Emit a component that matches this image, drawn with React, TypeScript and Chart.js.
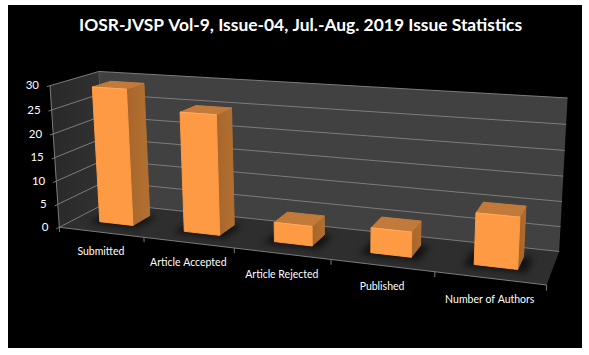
import React, { useEffect, useRef } from "react";
import { Chart, registerables } from "chart.js";

Chart.register(...registerables);

const titleText = "IOSR-JVSP Vol-9, Issue-04, Jul.-Aug. 2019 Issue Statistics";
const categories = ["Submitted", "Article Accepted", "Article Rejected", "Published", "Number of Authors"];
const values = [29, 25, 4, 5, 10];
const yMax = 30;
const yStep = 5;

// Camera: where three edges of the plot box land inside the canvas (canvas = page minus 8,5)
const CX = 8, CY = 5;
const O = { x: 59.3 - CX, y: 227.3 - CY };
const U = { x: 546.7 - CX, y: 285 - CY };
const W = { x: 106 - CX, y: 203 - CY };
const V = { x: 50 - CX, y: 85.7 - CY };
const persp = { a: -0.16, b: 0.08, c: -0.033 };
const depthFront = 0.33, depthBack = 0.72;

function project(u: number, w: number, v: number) {
  const { a, b, c } = persp;
  const d = 1 + a * u + b * w + c * v;
  const f = (k: "x" | "y") =>
    (O[k] + u * ((1 + a) * U[k] - O[k]) + w * ((1 + b) * W[k] - O[k]) + v * ((1 + c) * V[k] - O[k])) / d;
  return { x: f("x"), y: f("y") };
}

function poly(ctx: CanvasRenderingContext2D, pts: { x: number; y: number }[], fill: string | CanvasGradient, soft = false) {
  ctx.beginPath();
  pts.forEach((p, i) => (i ? ctx.lineTo(p.x, p.y) : ctx.moveTo(p.x, p.y)));
  ctx.closePath();
  ctx.fillStyle = fill;
  ctx.fill();
  if (soft) {
    ctx.strokeStyle = fill;
    ctx.lineWidth = 1;
    ctx.lineJoin = "round";
    ctx.stroke();
  }
}

function line(ctx: CanvasRenderingContext2D, a: { x: number; y: number }, b: { x: number; y: number }, color: string) {
  ctx.beginPath();
  ctx.moveTo(a.x, a.y);
  ctx.lineTo(b.x, b.y);
  ctx.strokeStyle = color;
  ctx.lineWidth = 1;
  ctx.stroke();
}

const scene3d = {
  id: "scene3d",
  afterDatasetsDraw(chart: any) {
    const ctx: CanvasRenderingContext2D = chart.ctx;
    const area = chart.chartArea;
    const xs = chart.scales.x, ys = chart.scales.y;
    const toU = (px: number) => (px - area.left) / (area.right - area.left);
    const toV = (py: number) => (area.bottom - py) / (area.bottom - area.top);
    const grid = "#7c7c7c";
    ctx.save();

    // walls and floor
    const lwGrad = ctx.createLinearGradient(project(0, 0, 0).x, 0, project(0, 1, 0).x, 0);
    lwGrad.addColorStop(0, "#2a2a2a");
    lwGrad.addColorStop(1, "#323232");
    poly(ctx, [project(0, 0, 0), project(0, 1, 0), project(0, 1, 1), project(0, 0, 1)], lwGrad);
    poly(ctx, [project(0, 1, 0), project(1, 1, 0), project(1, 1, 1), project(0, 1, 1)], "#414141");
    poly(ctx, [project(0, 0, 0), project(1, 0, 0), project(1, 1, 0), project(0, 1, 0)], "#2e2e2e");

    // horizontal gridlines from the y scale
    ys.ticks.forEach((t: any) => {
      const v = toV(ys.getPixelForValue(t.value));
      line(ctx, project(0, -0.06, v), project(0, 1, v), grid);
      line(ctx, project(0, 1, v), project(1, 1, v), grid);
      const p = project(0, 0, v);
      ctx.fillStyle = "#ffffff";
      ctx.font = "11.5px Lato";
      ctx.textAlign = "right";
      ctx.textBaseline = "middle";
      ctx.fillText(String(t.value), p.x - 11, p.y);
    });
    line(ctx, project(0, 0, 0), project(0, 0, 1), grid);
    line(ctx, project(0, 1, 0), project(0, 1, 1), "#555555");
    line(ctx, project(0, 0, 0), project(1, 0, 0), grid);

    // category ticks and labels from the x scale
    const n = categories.length;
    for (let i = 0; i <= n; i++) {
      const u = i / n;
      line(ctx, project(u, 0, 0), project(u, 0, -0.035), grid);
    }
    ctx.font = "10.5px Lato";
    ctx.textAlign = "center";
    ctx.textBaseline = "middle";
    ctx.fillStyle = "#ffffff";
    categories.forEach((c, i) => {
      const u = toU(xs.getPixelForValue(i));
      const p = project(u, 0, 0);
      ctx.fillText(xs.getLabelForValue(i), p.x, p.y + 19.5 + 2.5 * u);
    });

    const bars = chart.getDatasetMeta(0).data;
    // floor shadows
    ctx.save();
    ctx.beginPath();
    [project(0, 0, 0), project(1, 0, 0), project(1, 1, 0), project(0, 1, 0)].forEach((p, i) =>
      i ? ctx.lineTo(p.x, p.y) : ctx.moveTo(p.x, p.y)
    );
    ctx.closePath();
    ctx.clip();
    ctx.filter = "blur(3px)";
    bars.forEach((b: any) => {
      const u0 = toU(b.x - b.width / 2) - 0.018, u1 = toU(b.x + b.width / 2) + 0.018;
      poly(ctx, [project(u0, depthFront - 0.08, 0), project(u1, depthFront - 0.08, 0), project(u1, depthBack, 0), project(u0, depthBack, 0)], "rgba(0,0,0,0.6)");
    });
    ctx.restore();

    // bars
    bars.forEach((b: any) => {
      const u0 = toU(b.x - b.width / 2), u1 = toU(b.x + b.width / 2);
      const v = toV(b.y), w0 = depthFront, w1 = depthBack;
      const fbl = project(u0, w0, 0), fbr = project(u1, w0, 0), ftl = project(u0, w0, v), ftr = project(u1, w0, v);
      const bbr = project(u1, w1, 0), btr = project(u1, w1, v), btl = project(u0, w1, v);
      const side = ctx.createLinearGradient(ftr.x, 0, btr.x, 0);
      side.addColorStop(0, "#a8662c");
      side.addColorStop(1, "#b06e30");
      poly(ctx, [fbr, bbr, btr, ftr], side, true);
      poly(ctx, [ftl, ftr, btr, btl], "#c27a3a", true);
      poly(ctx, [fbl, fbr, ftr, ftl], "#fe9a44", true);
      line(ctx, ftl, ftr, "#ffa95e");
    });
    ctx.restore();
  },
};

export default function App() {
  const ref = useRef<HTMLCanvasElement>(null);
  useEffect(() => {
    const canvas = ref.current!;
    canvas.getContext("2d", { alpha: false });
    const chart = new Chart(canvas, {
      type: "bar",
      data: {
        labels: categories,
        datasets: [
          {
            data: values,
            backgroundColor: "rgba(0,0,0,0)",
            barPercentage: 0.4,
            categoryPercentage: 1,
          },
        ],
      },
      options: {
        animation: false,
        responsive: false,
        devicePixelRatio: 1,
        layout: { padding: { left: 71, top: 0, right: 0, bottom: 0 } },
        scales: {
          x: { display: false, type: "category" },
          y: { display: false, min: 0, max: yMax, ticks: { stepSize: yStep } },
        },
        plugins: {
          legend: { display: false },
          tooltip: { enabled: false },
          title: {
            display: true,
            text: titleText,
            align: "start",
            color: "#ffffff",
            font: { family: "Lato", weight: "bold", size: 17.4 },
            padding: { top: 10, bottom: 8 },
          },
        },
      },
      plugins: [scene3d],
    } as any);
    return () => chart.destroy();
  }, []);
  return (
    <canvas
      ref={ref}
      width={574}
      height={343}
      style={{ position: "absolute", left: 8, top: 5, width: 574, height: 343, background: "#000" }}
    />
  );
}
